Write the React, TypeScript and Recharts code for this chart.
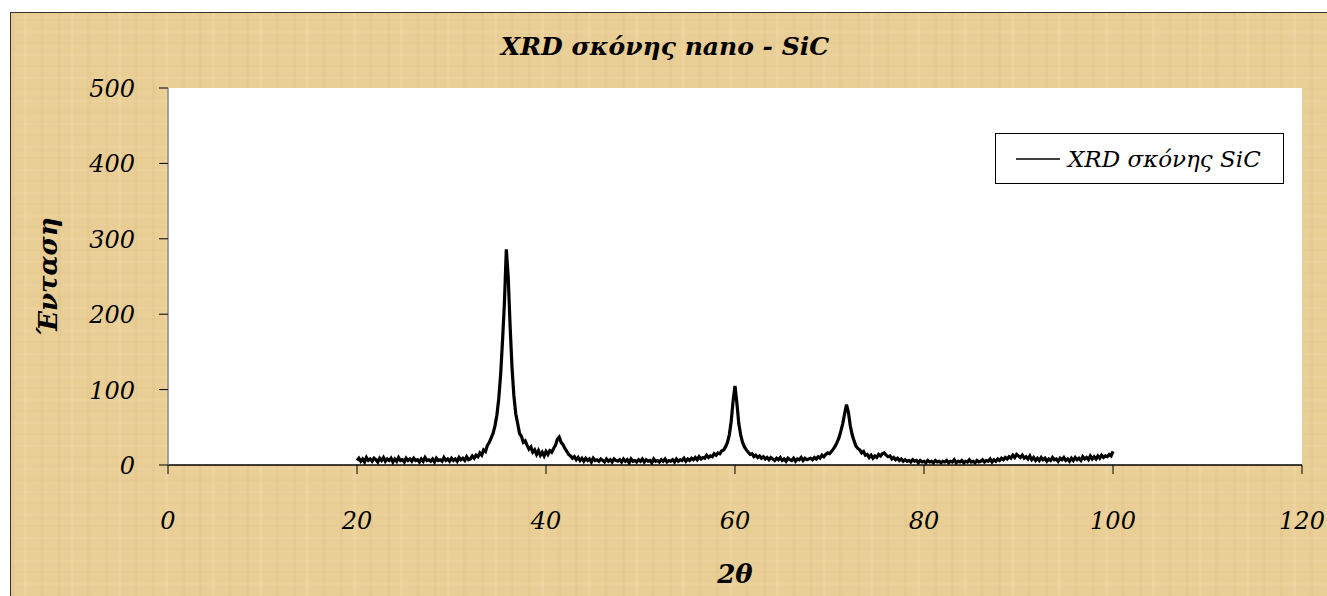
import React from "react";
import { LineChart, Line, XAxis, YAxis, CartesianGrid, Legend, Label } from "recharts";

// 2θ step of the hand-read intensity values below
const START_ANGLE = 20;
const STEP = 0.2;

// Intensity, 20°–100°, every 0.2°
const seg20_30 = [
  6, 9, 5, 8, 4, 10, 6, 8, 5, 9,
  7, 4, 9, 6, 10, 5, 8, 6, 9, 4,
  8, 5, 10, 6, 7, 4, 9, 6, 8, 5,
  9, 6, 7, 4, 8, 5, 10, 6, 7, 5,
  8, 4, 9, 6, 7, 5, 10, 6, 8, 5,
];
const seg30_40 = [
  9, 6, 8, 5, 10, 7, 9, 6, 11, 7,
  8, 12, 9, 13, 11, 16, 13, 20, 18, 26,
  30, 36, 42, 52, 66, 88, 120, 165, 215, 286,
  250, 185, 130, 92, 68, 55, 42, 38, 30, 32,
  26, 21, 24, 17, 20, 14, 19, 13, 17, 12,
];
const seg40_50 = [
  18, 14, 19, 17, 22, 26, 34, 37, 30, 27,
  22, 18, 14, 12, 9, 11, 7, 10, 6, 9,
  5, 9, 6, 8, 4, 9, 6, 7, 5, 8,
  6, 4, 8, 5, 7, 4, 8, 6, 5, 7,
  4, 8, 5, 7, 3, 8, 5, 6, 4, 7,
];
const seg50_60 = [
  5, 8, 4, 7, 5, 6, 3, 8, 5, 6,
  4, 7, 5, 8, 4, 6, 5, 7, 4, 8,
  5, 7, 6, 9, 5, 8, 6, 9, 7, 10,
  7, 11, 8, 10, 9, 13, 10, 12, 11, 15,
  13, 16, 15, 19, 20, 24, 30, 40, 58, 85,
];
const seg60_70 = [
  105, 82, 55, 40, 30, 24, 20, 17, 14, 15,
  11, 13, 10, 12, 9, 11, 8, 10, 7, 10,
  8, 6, 9, 7, 10, 6, 8, 5, 9, 7,
  6, 9, 5, 8, 7, 10, 6, 9, 7, 8,
  9, 7, 10, 8, 11, 9, 13, 11, 14, 16,
];
const seg70_80 = [
  15, 18, 21, 25, 30, 36, 45, 55, 68, 80,
  70, 52, 40, 32, 25, 22, 20, 16, 18, 13,
  14, 10, 13, 9, 12, 10, 14, 12, 15, 16,
  13, 11, 12, 8, 10, 7, 9, 6, 8, 5,
  7, 5, 6, 4, 7, 5, 6, 3, 6, 4,
];
const seg80_90 = [
  5, 3, 6, 4, 5, 3, 6, 4, 5, 3,
  5, 4, 6, 3, 5, 4, 7, 3, 5, 4,
  6, 3, 5, 4, 7, 4, 5, 3, 6, 4,
  5, 7, 4, 6, 5, 8, 4, 7, 5, 8,
  6, 9, 7, 10, 8, 11, 9, 13, 10, 14,
];
const seg90_100 = [
  12, 10, 13, 9, 11, 8, 12, 7, 10, 6,
  9, 6, 10, 7, 9, 5, 8, 6, 10, 7,
  8, 5, 9, 7, 10, 6, 8, 5, 9, 6,
  10, 7, 9, 6, 11, 8, 10, 7, 12, 8,
  11, 8, 12, 9, 13, 10, 12, 11, 14, 12,
  18,
];

const xTicks = [0, 20, 40, 60, 80, 100, 120];
const yTicks = [0, 100, 200, 300, 400, 500];

const TITLE = "XRD σκόνης nano - SiC";
const SERIES_NAME = "XRD σκόνης SiC";
const X_LABEL = "2θ";
const Y_LABEL = "Ένταση";

const intensities = [
  ...seg20_30, ...seg30_40, ...seg40_50, ...seg50_60,
  ...seg60_70, ...seg70_80, ...seg80_90, ...seg90_100,
];
const data = intensities.map((v, i) => ({
  x: Math.round((START_ANGLE + i * STEP) * 10) / 10,
  y: v,
}));

const FONT = "'DejaVu Serif', 'Liberation Serif', serif";

const XTick = (props: any) => {
  const { x, y, payload } = props;
  return (
    <text x={x} y={y + 53} textAnchor="middle" fontFamily={FONT} fontStyle="italic" fontSize={24} fill="#000">
      {payload.value}
    </text>
  );
};

const YTick = (props: any) => {
  const { x, y, payload } = props;
  return (
    <text x={x - 22} y={y + 9} textAnchor="end" fontFamily={FONT} fontStyle="italic" fontSize={24} fill="#000">
      {payload.value}
    </text>
  );
};

const LegendBox = () => (
  <div
    style={{
      width: 289,
      height: 51,
      boxSizing: "border-box",
      border: "1px solid #000",
      background: "#fff",
      display: "flex",
      alignItems: "center",
      fontFamily: FONT,
      fontStyle: "italic",
      fontSize: 23,
      color: "#000",
    }}
  >
    <svg width={70} height={20} style={{ marginLeft: 20 }}>
      <line x1={0} y1={10} x2={44} y2={10} stroke="#000" strokeWidth={1.5} />
    </svg>
    <span style={{ marginLeft: -18, whiteSpace: "nowrap" }}>{SERIES_NAME}</span>
  </div>
);

const parchment =
  "repeating-linear-gradient(90deg, rgba(175,135,65,0.07) 0 3px, rgba(0,0,0,0) 3px 13px, rgba(255,242,210,0.14) 13px 16px, rgba(0,0,0,0) 16px 29px, rgba(175,135,65,0.05) 29px 33px, rgba(0,0,0,0) 33px 47px)," +
  "repeating-linear-gradient(0deg, rgba(175,135,65,0.03) 0 2px, rgba(0,0,0,0) 2px 11px, rgba(255,242,210,0.07) 11px 13px, rgba(0,0,0,0) 13px 23px)," +
  "#E9CE96";

export default function App() {
  return (
    <>
      <style>{"html{overflow:hidden}"}</style>
      <div
        style={{
          position: "absolute",
          left: 10,
          top: 12,
          width: 1317,
          height: 584,
          boxSizing: "border-box",
          borderLeft: "1px solid #333",
          borderTop: "1px solid #333",
          background: parchment,
          overflow: "hidden",
        }}
      >
        <LineChart
          width={1316}
          height={583}
          data={data}
          margin={{ top: 75, right: 25, bottom: 71, left: 97 }}
        >
          <CartesianGrid horizontal={false} vertical={false} fill="#ffffff" />
          <text x={654} y={42} textAnchor="middle" fontFamily={FONT} fontStyle="italic" fontWeight="bold" fontSize={25} fill="#000">
            {TITLE}
          </text>
          <XAxis
            dataKey="x"
            type="number"
            domain={[0, 120]}
            ticks={xTicks}
            tickSize={9}
            tick={<XTick />}
            axisLine={{ stroke: "#000", strokeWidth: 1.5 }}
            tickLine={{ stroke: "#000" }}
            height={60}
            allowDataOverflow
          >
            <Label
              value={X_LABEL}
              position="insideBottom"
              offset={-58}
              fontFamily={FONT}
              fontStyle="italic"
              fontWeight="bold"
              fontSize={26}
              fill="#000"
            />
          </XAxis>
          <YAxis
            type="number"
            domain={[0, 500]}
            ticks={yTicks}
            tickSize={9}
            tick={<YTick />}
            axisLine={{ stroke: "#888", strokeWidth: 1.5 }}
            tickLine={{ stroke: "#000" }}
            width={60}
            allowDataOverflow
          >
            <Label
              value={Y_LABEL}
              angle={-90}
              position="insideLeft"
              offset={-60}
              fontFamily={FONT}
              fontStyle="italic"
              fontWeight="bold"
              fontSize={26}
              fill="#000"
              style={{ textAnchor: "middle" }}
            />
          </YAxis>
          <Legend
            layout="horizontal"
            verticalAlign="middle"
            align="center"
            content={<LegendBox />}
            wrapperStyle={{ left: 984, top: 120, width: 289, height: 51 }}
          />
          <Line
            type="linear"
            dataKey="y"
            name={SERIES_NAME}
            stroke="#000"
            strokeWidth={3.2}
            strokeLinejoin="miter"
            dot={false}
            isAnimationActive={false}
          />
        </LineChart>
      </div>
    </>
  );
}
